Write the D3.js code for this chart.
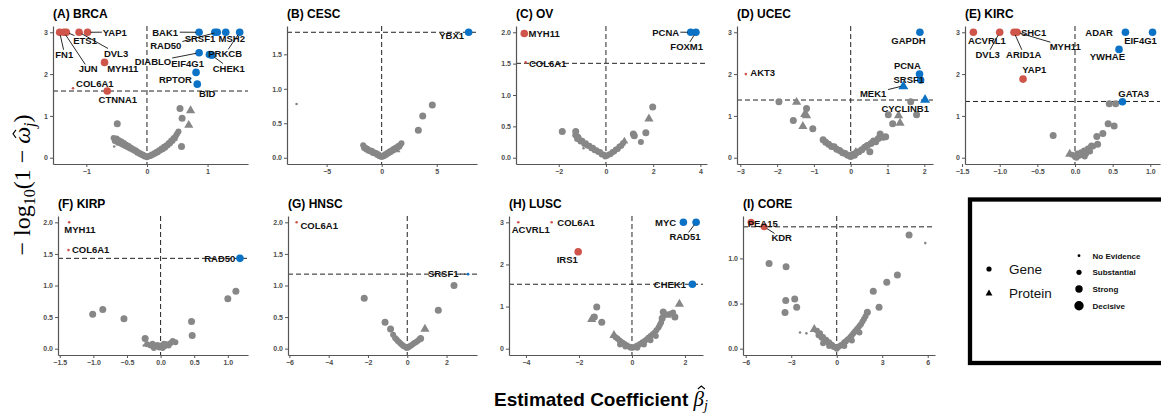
<!DOCTYPE html>
<html><head><meta charset="utf-8">
<script src="https://cdn.jsdelivr.net/npm/d3@7"></script>
<style>body{margin:0;background:#fff}</style>
</head><body>
<script>
// ---------- DATA ----------
const panelTitles = ["(A) BRCA","(B) CESC","(C) OV","(D) UCEC","(E) KIRC","(F) KIRP","(G) HNSC","(H) LUSC","(I) CORE"];
const xDomains = [[-1.55,1.667],[-8.6,8.66],[-3.81,4.28],[-3.09,2.236],[-1.461,1.129],[-1.526,1.3],[-6.07,3.55],[-4.64,2.68],[-6.18,6.48]];
const yDomains = [[-0.15,3.15],[-0.091,1.911],[-0.1,2.1],[-0.15,3.15],[-0.15,3.15],[-0.1,2.1],[-0.1,2.1],[-0.15,3.15],[-0.07,1.47]];
const xTicks = [[-1,0,1],[-5,0,5],[-2,0,2,4],[-3,-2,-1,0,1,2],[-1.5,-1,-0.5,0,0.5,1],[-1.5,-1,-0.5,0,0.5,1],[-6,-4,-2,0,2],[-4,-2,0,2],[-6,-3,0,3,6]];
const xTickFmt = ["d","d","d","d",".1f",".1f","d","d","d"];
const yTicks = [[0,1,2,3],[0,0.5,1,1.5],[0,0.5,1,1.5,2],[0,1,2,3],[0,1,2,3],[0,0.5,1,1.5,2],[0,0.5,1,1.5,2],[0,1,2,3],[0,0.5,1]];
const yTickFmt = ["d",".1f",".1f","d","d",".1f",".1f","d",".1f"];
const thresholds = [1.595,1.82,1.505,1.38,1.345,1.43,1.18,1.53,1.35];

// points: [beta, -log10(1-omega), type g=gene p=protein, evidence n/s/t/d, colour r/b/k]
const brcaPoints = [
 [-0.55,0.47,'g','s','k'],[-0.53,0.40,'g','s','k'],[-0.50,0.46,'g','s','k'],[-0.48,0.36,'g','s','k'],[-0.46,0.42,'g','s','k'],[-0.44,0.34,'g','s','k'],[-0.42,0.39,'g','s','k'],[-0.40,0.31,'g','s','k'],[-0.38,0.35,'g','s','k'],[-0.36,0.28,'g','s','k'],[-0.34,0.31,'g','s','k'],[-0.32,0.25,'g','s','k'],[-0.30,0.28,'g','s','k'],[-0.28,0.22,'g','s','k'],[-0.26,0.24,'g','s','k'],[-0.24,0.19,'g','s','k'],[-0.22,0.20,'g','s','k'],[-0.20,0.16,'g','s','k'],[-0.18,0.17,'g','s','k'],[-0.16,0.12,'g','s','k'],[-0.14,0.13,'g','s','k'],[-0.12,0.09,'g','s','k'],[-0.10,0.10,'g','s','k'],[-0.08,0.06,'g','s','k'],[-0.06,0.07,'g','s','k'],[-0.04,0.03,'g','s','k'],[-0.02,0.04,'g','s','k'],[0.00,0.01,'g','s','k'],[0.02,0.03,'g','s','k'],[0.04,0.05,'g','s','k'],[0.06,0.04,'g','s','k'],[0.08,0.08,'g','s','k'],[0.10,0.07,'g','s','k'],[0.12,0.11,'g','s','k'],[0.14,0.10,'g','s','k'],[0.16,0.14,'g','s','k'],[0.18,0.13,'g','s','k'],[0.20,0.18,'g','s','k'],[0.22,0.17,'g','s','k'],[0.24,0.22,'g','s','k'],[0.26,0.20,'g','s','k'],[0.28,0.26,'g','s','k'],[0.30,0.24,'g','s','k'],[0.32,0.30,'g','s','k'],[0.34,0.29,'g','s','k'],[0.36,0.35,'g','s','k'],[0.38,0.34,'g','s','k'],[0.40,0.41,'g','s','k'],[0.42,0.40,'g','s','k'],[0.44,0.47,'g','s','k'],[0.46,0.46,'g','s','k'],[0.48,0.53,'g','s','k'],[0.50,0.58,'g','s','k'],[0.52,0.63,'g','s','k'],
 [-0.49,0.81,'g','t','k'],[0.545,1.18,'g','t','k'],[0.58,0.945,'g','t','k'],[0.57,0.27,'g','t','k'],[0.72,1.14,'p','t','k'],[0.69,0.79,'p','t','k'],[-0.54,0.27,'g','n','k'],
 [-1.44,3,'g','d','r'],[-1.37,3,'g','d','r'],[-1.33,3,'g','d','r'],[-1.12,3,'g','d','r'],[-0.98,3,'g','d','r'],[-0.70,2.28,'g','d','r'],[-0.655,1.595,'g','d','r'],[-1.22,1.66,'g','n','r'],
 [0.86,3,'g','d','b'],[1.12,3,'g','d','b'],[1.16,3,'g','d','b'],[1.30,3,'g','d','b'],[1.53,3,'g','d','b'],[0.86,2.51,'g','d','b'],[1.03,2.47,'g','d','b'],[1.07,2.45,'g','d','b'],[0.81,2.04,'g','d','b'],[0.83,1.76,'g','d','b']
];
const cescPoints = [
 [-1.68,0.18,'g','s','k'],[-1.60,0.14,'g','s','k'],[-1.50,0.15,'g','s','k'],[-1.40,0.12,'g','s','k'],[-1.30,0.13,'g','s','k'],[-1.20,0.10,'g','s','k'],[-1.10,0.11,'g','s','k'],[-1.00,0.09,'g','s','k'],[-0.90,0.10,'g','s','k'],[-0.80,0.07,'g','s','k'],[-0.70,0.08,'g','s','k'],[-0.60,0.06,'g','s','k'],[-0.50,0.07,'g','s','k'],[-0.40,0.04,'g','s','k'],[-0.30,0.05,'g','s','k'],[-0.20,0.02,'g','s','k'],[-0.10,0.03,'g','s','k'],[0.00,0.01,'g','s','k'],
 [0.10,0.03,'g','s','k'],[0.20,0.02,'g','s','k'],[0.30,0.05,'g','s','k'],[0.40,0.04,'g','s','k'],[0.50,0.07,'g','s','k'],[0.60,0.06,'g','s','k'],[0.70,0.09,'g','s','k'],[0.80,0.08,'g','s','k'],[0.90,0.11,'g','s','k'],[1.00,0.10,'g','s','k'],[1.10,0.13,'g','s','k'],[1.20,0.12,'g','s','k'],[1.30,0.15,'g','s','k'],[1.40,0.14,'g','s','k'],[1.50,0.17,'g','s','k'],[1.60,0.16,'g','s','k'],[1.70,0.19,'g','s','k'],[1.80,0.21,'g','s','k'],[1.35,0.12,'p','s','k'],
 [-7.73,0.78,'g','n','k'],[4.6,0.765,'g','t','k'],[3.73,0.606,'g','t','k'],[3.33,0.40,'g','t','k'],
 [7.9,1.82,'g','d','b']
];
const ovPoints = [
 [-1.30,0.36,'g','s','k'],[-1.22,0.30,'g','s','k'],[-1.15,0.31,'g','s','k'],[-1.08,0.26,'g','s','k'],[-1.00,0.27,'g','s','k'],[-0.92,0.22,'g','s','k'],[-0.85,0.23,'g','s','k'],[-0.78,0.19,'g','s','k'],[-0.70,0.19,'g','s','k'],[-0.62,0.15,'g','s','k'],[-0.55,0.16,'g','s','k'],[-0.48,0.12,'g','s','k'],[-0.40,0.12,'g','s','k'],[-0.33,0.09,'g','s','k'],[-0.25,0.09,'g','s','k'],[-0.18,0.05,'g','s','k'],[-0.10,0.05,'g','s','k'],[-0.03,0.02,'g','s','k'],
 [0.05,0.03,'g','s','k'],[0.12,0.05,'g','s','k'],[0.20,0.06,'g','s','k'],[0.28,0.09,'g','s','k'],[0.35,0.10,'g','s','k'],[0.42,0.13,'g','s','k'],[0.50,0.14,'g','s','k'],[0.57,0.18,'g','s','k'],[0.65,0.19,'g','s','k'],[0.72,0.23,'g','s','k'],[0.78,0.27,'p','s','k'],
 [-1.85,0.42,'g','t','k'],[-1.28,0.42,'g','t','k'],[-1.2,0.33,'g','t','k'],[1.16,0.38,'g','t','k'],[1.2,0.35,'g','t','k'],[1.48,0.25,'g','s','k'],[1.69,0.40,'g','t','k'],[1.98,0.81,'g','t','k'],[1.82,0.63,'p','t','k'],[-0.95,0.15,'g','n','k'],
 [-3.46,1.98,'g','d','r'],[-3.40,1.52,'g','n','r'],[3.59,2.0,'g','d','b'],[3.81,2.0,'g','d','b']
];
const ucecPoints = [
 [-0.75,0.43,'g','t','k'],[-0.68,0.37,'g','t','k'],[-0.60,0.32,'g','t','k'],[-0.52,0.27,'g','t','k'],[-0.45,0.26,'g','t','k'],[-0.38,0.20,'g','t','k'],[-0.30,0.17,'g','t','k'],[-0.22,0.12,'g','t','k'],[-0.15,0.10,'g','t','k'],[-0.08,0.06,'g','t','k'],[0.00,0.03,'g','t','k'],[0.05,0.08,'g','t','k'],[0.10,0.06,'g','t','k'],[0.15,0.12,'g','t','k'],[0.22,0.14,'g','t','k'],[0.30,0.19,'g','t','k'],[0.38,0.25,'g','t','k'],[0.45,0.29,'g','t','k'],[0.52,0.14,'g','t','k'],[0.55,0.34,'g','t','k'],[0.62,0.40,'g','t','k'],[0.68,0.38,'g','t','k'],[0.75,0.46,'g','t','k'],[0.80,0.57,'g','t','k'],[0.88,0.49,'g','t','k'],[0.95,0.50,'g','t','k'],[0.14,0.14,'p','t','k'],
 [-1.95,1.34,'g','t','k'],[-1.47,1.34,'p','t','k'],[-1.56,0.89,'g','t','k'],[-1.2,1.18,'g','t','k'],[-1.25,1.05,'p','t','k'],[-1.20,1.02,'p','t','k'],[-1.3,0.765,'p','t','k'],[-1.03,0.69,'g','t','k'],
 [1.63,1.34,'g','t','k'],[1.79,1.03,'g','t','k'],[1.02,1.03,'g','t','k'],[1.14,0.81,'g','t','k'],[1.34,0.84,'p','t','k'],[1.30,1.02,'p','t','k'],
 [-2.85,2.0,'g','n','r'],[1.88,3.0,'g','d','b'],[1.87,2.0,'g','d','b'],[1.90,1.86,'g','d','b'],[1.43,1.72,'p','d','b'],[2.02,1.40,'p','d','b']
];
const kircPoints = [
 [0.00,0.02,'g','s','k'],[0.03,0.10,'g','s','k'],[0.05,0.04,'g','s','k'],[0.08,0.13,'g','s','k'],[0.10,0.06,'g','s','k'],[0.12,0.17,'g','s','k'],[0.15,0.10,'g','s','k'],[0.17,0.22,'g','s','k'],[0.20,0.15,'g','s','k'],[0.24,0.27,'g','s','k'],[-0.04,0.07,'g','s','k'],[0.02,0.00,'g','s','k'],[0.07,0.08,'g','s','k'],[0.13,0.03,'g','s','k'],[-0.07,0.10,'p','t','k'],
 [0.455,1.29,'g','t','k'],[0.54,1.29,'g','t','k'],[0.44,0.81,'g','t','k'],[0.52,0.76,'g','t','k'],[0.37,0.58,'g','t','k'],[0.29,0.51,'g','t','k'],[0.30,0.32,'g','t','k'],[0.22,0.28,'g','t','k'],[-0.29,0.53,'g','t','k'],
 [-1.35,3,'g','d','r'],[-1.0,3,'g','d','r'],[-0.81,3,'g','d','r'],[-0.77,3,'g','d','r'],[-0.69,1.88,'g','d','r'],
 [0.67,3,'g','d','b'],[1.03,3,'g','d','b'],[0.585,2.59,'g','d','b'],[0.63,1.34,'g','d','b']
];
const kirpPoints = [
 [-0.20,0.07,'g','s','k'],[-0.15,0.05,'g','s','k'],[-0.12,0.08,'g','s','k'],[-0.08,0.04,'g','s','k'],[-0.05,0.06,'g','s','k'],[-0.02,0.02,'g','s','k'],[0.00,0.05,'g','s','k'],[0.03,0.01,'g','s','k'],[0.06,0.04,'g','s','k'],[0.09,0.07,'g','s','k'],[0.12,0.05,'g','s','k'],[0.15,0.09,'g','s','k'],[0.18,0.12,'g','s','k'],[0.22,0.10,'g','s','k'],[-0.10,0.01,'g','s','k'],[0.05,0.08,'g','s','k'],
 [-1.01,0.545,'g','t','k'],[-0.86,0.62,'g','t','k'],[-0.545,0.475,'g','t','k'],[0.46,0.43,'g','t','k'],[0.47,0.21,'g','t','k'],[1.0,0.79,'g','t','k'],[1.12,0.91,'g','t','k'],[-0.23,0.16,'g','t','k'],[-0.25,0.05,'g','n','k'],
 [-1.36,2.0,'g','n','r'],[-1.37,1.56,'g','n','r'],[1.18,1.43,'g','d','b']
];
const hnscPoints = [
 [-0.72,0.22,'g','s','k'],[-0.62,0.17,'g','s','k'],[-0.55,0.15,'g','s','k'],[-0.48,0.12,'g','s','k'],[-0.40,0.10,'g','s','k'],[-0.33,0.08,'g','s','k'],[-0.25,0.06,'g','s','k'],[-0.18,0.04,'g','s','k'],[-0.10,0.03,'g','s','k'],[-0.03,0.01,'g','s','k'],[0.05,0.02,'g','s','k'],[0.12,0.04,'g','s','k'],[0.20,0.05,'g','s','k'],[0.28,0.07,'g','s','k'],[0.36,0.09,'g','s','k'],[0.44,0.10,'g','s','k'],[0.52,0.12,'g','s','k'],[0.60,0.14,'g','s','k'],
 [-2.19,0.80,'g','t','k'],[-1.13,0.42,'g','t','k'],[-0.85,0.31,'g','t','k'],[2.38,1.0,'g','t','k'],[1.58,0.61,'g','t','k'],[0.9,0.32,'p','t','k'],[0.68,0.16,'g','t','k'],
 [-5.63,2.0,'g','n','r'],[3.1,1.18,'g','n','b']
];
const luscPoints = [
 [-0.68,0.33,'p','t','k'],[-0.62,0.27,'g','s','k'],[-0.55,0.24,'g','s','k'],[-0.48,0.20,'g','s','k'],[-0.42,0.17,'g','s','k'],[-0.35,0.14,'g','s','k'],[-0.28,0.11,'g','s','k'],[-0.20,0.08,'g','s','k'],[-0.12,0.05,'g','s','k'],[-0.05,0.02,'g','s','k'],
 [0.03,0.02,'g','s','k'],[0.10,0.04,'g','s','k'],[0.18,0.07,'g','s','k'],[0.25,0.09,'g','s','k'],[0.32,0.12,'g','s','k'],[0.40,0.15,'g','s','k'],[0.48,0.18,'g','s','k'],[0.55,0.22,'g','s','k'],[0.62,0.26,'g','s','k'],[0.70,0.30,'g','s','k'],[0.78,0.34,'g','s','k'],[0.85,0.38,'g','s','k'],[0.92,0.44,'g','s','k'],[1.00,0.50,'g','s','k'],[1.05,0.56,'g','s','k'],[1.10,0.62,'g','s','k'],[1.14,0.72,'g','t','k'],[1.18,0.87,'g','t','k'],[1.25,0.82,'g','s','k'],[1.35,0.80,'p','s','k'],[1.45,0.83,'g','s','k'],[1.55,0.86,'g','s','k'],[1.62,0.75,'g','t','k'],[1.79,1.07,'p','t','k'],
 [-0.45,0.10,'g','s','k'],[-0.25,0.05,'g','s','k'],[0.20,0.02,'g','s','k'],[0.45,0.10,'g','s','k'],[0.70,0.20,'g','s','k'],[0.90,0.30,'g','s','k'],
 [-1.33,0.99,'g','t','k'],[-1.52,0.71,'p','t','k'],[-1.14,0.63,'g','t','k'],[-1.42,0.75,'g','t','k'],
 [-4.29,3,'g','n','r'],[-3.03,3,'g','n','r'],[-2.03,2.3,'g','d','r'],[1.94,3,'g','d','b'],[2.42,3,'g','d','b'],[2.28,1.53,'g','d','b']
];
const corePoints = [
 [-1.30,0.20,'g','s','k'],[-1.20,0.15,'g','s','k'],[-1.10,0.17,'g','s','k'],[-1.00,0.12,'g','s','k'],[-0.90,0.13,'g','s','k'],[-0.80,0.09,'g','s','k'],[-0.70,0.10,'g','s','k'],[-0.60,0.07,'g','s','k'],[-0.50,0.07,'g','s','k'],[-0.40,0.05,'g','s','k'],[-0.30,0.04,'g','s','k'],[-0.20,0.02,'g','s','k'],[-0.10,0.02,'g','s','k'],[0.00,0.00,'g','s','k'],
 [0.10,0.02,'g','s','k'],[0.20,0.03,'g','s','k'],[0.30,0.04,'g','s','k'],[0.40,0.05,'g','s','k'],[0.50,0.07,'g','s','k'],[0.60,0.08,'g','s','k'],[0.70,0.10,'g','s','k'],[0.80,0.11,'g','s','k'],[0.90,0.13,'g','s','k'],[1.00,0.15,'g','s','k'],[1.10,0.17,'g','s','k'],[1.20,0.19,'g','s','k'],[1.30,0.21,'g','s','k'],[1.40,0.23,'g','s','k'],[1.50,0.25,'g','s','k'],[1.60,0.27,'g','s','k'],[1.70,0.30,'g','s','k'],[1.80,0.33,'g','s','k'],[1.90,0.36,'g','s','k'],
 [-0.9,0.06,'g','s','k'],[-0.5,0.03,'g','s','k'],[0.5,0.03,'g','s','k'],[1.0,0.09,'g','s','k'],[1.5,0.18,'g','s','k'],
 [-4.46,0.945,'g','t','k'],[-3.34,0.908,'g','t','k'],[-3.36,0.533,'g','t','k'],[-2.77,0.55,'g','t','k'],[-3.41,0.40,'g','t','k'],[-2.64,0.46,'g','t','k'],[4.77,1.26,'g','t','k'],[5.84,1.17,'g','n','k'],[4.0,0.817,'g','t','k'],[3.3,0.735,'g','t','k'],[2.41,0.636,'g','t','k'],[2.79,0.46,'g','t','k'],[2.02,0.405,'g','t','k'],[-2.42,0.18,'g','n','k'],[-2.0,0.17,'g','n','k'],[-1.48,0.22,'p','t','k'],
 [-5.65,1.40,'g','t','r'],[-4.79,1.35,'g','t','r']
];
const panelPoints = [brcaPoints,cescPoints,ovPoints,ucecPoints,kircPoints,kirpPoints,hnscPoints,luscPoints,corePoints];

// labels: [text, point beta, point y, label beta, label y, draw segment]
const brcaLabels = [["FN1",-1.44,3,-1.365,2.47,1],["JUN",-1.37,3,-0.97,2.12,1],["ETS1",-1.33,3,-1.02,2.81,1],["DVL3",-1.12,3,-0.51,2.5,1],["YAP1",-0.98,3,-0.53,3.0,1],["MYH11",-0.70,2.28,-0.40,2.12,0],["COL6A1",-1.22,1.66,-0.86,1.78,0],["CTNNA1",-0.655,1.595,-0.48,1.38,0],
 ["BAK1",0.86,3,0.30,3.0,1],["SRSF1",1.12,3,0.875,2.85,1],["RAD50",1.16,3,0.31,2.67,1],["MSH2",1.30,3,1.40,2.85,1],["DIABLO",0.86,2.51,0.10,2.29,1],["EIF4G1",1.03,2.47,0.67,2.25,0],["PRKCB",1.53,3,1.29,2.48,1],["CHEK1",1.07,2.45,1.35,2.14,1],["RPTOR",0.81,2.04,0.47,1.86,0],["BID",0.83,1.76,0.995,1.54,0]];
const cescLabels = [["YBX1",7.9,1.82,6.36,1.765,1]];
const ovLabels = [["MYH11",-3.46,1.98,-2.62,1.98,0],["COL6A1",-3.40,1.52,-2.47,1.5,0],["PCNA",3.59,2.0,2.53,2.0,1],["FOXM1",3.81,2.0,3.42,1.77,1]];
const ucecLabels = [["AKT3",-2.85,2.0,-2.39,2.03,0],["GAPDH",1.88,3,1.57,2.8,0],["PCNA",1.87,2,1.54,2.19,0],["SRSF1",1.90,1.86,1.58,1.86,0],["MEK1",1.43,1.72,0.61,1.54,1],["CYCLINB1",2.02,1.40,1.48,1.17,0]];
const kircLabels = [["ACVRL1",-1.35,3,-1.17,2.81,0],["DVL3",-1.0,3,-1.16,2.47,1],["ARID1A",-0.81,3,-0.68,2.47,1],["SHC1",-0.77,3,-0.55,3.0,0],["MYH11",-0.77,3,-0.13,2.65,1],["YAP1",-0.69,1.88,-0.54,2.1,0],
 ["ADAR",0.67,3,0.32,3,0],["EIF4G1",1.03,3,0.87,2.79,0],["YWHAE",0.585,2.59,0.43,2.41,0],["GATA3",0.63,1.34,0.78,1.53,0]];
const kirpLabels = [["MYH11",-1.36,2.0,-1.2,1.89,0],["COL6A1",-1.37,1.56,-1.04,1.57,0],["RAD50",1.18,1.43,0.88,1.43,1]];
const hnscLabels = [["COL6A1",-5.63,2.0,-4.48,1.95,0],["SRSF1",3.1,1.18,1.83,1.18,1]];
const luscLabels = [["ACVRL1",-4.29,3,-3.82,2.83,0],["COL6A1",-3.03,3,-2.11,3,0],["IRS1",-2.03,2.3,-2.44,2.12,0],["MYC",1.94,3,1.27,3,0],["RAD51",2.42,3,2.0,2.65,1],["CHEK1",2.28,1.53,1.43,1.53,1]];
const coreLabels = [["PEA15",-5.65,1.40,-4.88,1.39,0],["KDR",-4.79,1.35,-3.63,1.225,1]];
const panelLabels = [brcaLabels,cescLabels,ovLabels,ucecLabels,kircLabels,kirpLabels,hnscLabels,luscLabels,coreLabels];

const shapeNames = ["Gene","Protein"];
const evidenceNames = ["No Evidence","Substantial","Strong","Decisive"];

// ---------- LAYOUT / STYLE ----------
const W = 1161, H = 414;
const boxes = [[53,248,26,164],[287,477,26,164],[516,707,26,164],[737,933,26,164],[965,1160,26,164],
               [58,248,216,355],[288,477,216,355],[509,703,216,355],[743,935,216,355]];
const R = {n:1.3, s:3.0, t:3.5, d:3.8};
const COL = {r:"#CF544A", b:"#0C72C6", k:"#878787"};
const SANS = "'Liberation Sans', Arial, Helvetica, sans-serif";
const SERIF = "'Liberation Serif', 'DejaVu Serif', serif";

const svg = d3.select("body").append("svg").attr("width",W).attr("height",H);
svg.append("rect").attr("width",W).attr("height",H).attr("fill","#fff");

function marker(sel, d, x, y){
  if (d[2]==='p'){
    const r = R[d[3]];
    sel.append("path")
      .attr("d", d3.symbol(d3.symbolTriangle, Math.PI*r*r*0.95)())
      .attr("transform",`translate(${x(d[0])},${y(d[1])+r*0.15})`)
      .attr("fill", COL[d[4]]);
  } else {
    sel.append("circle").attr("cx",x(d[0])).attr("cy",y(d[1])).attr("r",R[d[3]]).attr("fill",COL[d[4]]);
  }
}

panelTitles.forEach((title,i)=>{
  const [l,r,t,b] = boxes[i];
  const x = d3.scaleLinear().domain(xDomains[i]).range([l,r]);
  const y = d3.scaleLinear().domain(yDomains[i]).range([b,t]);
  const g = svg.append("g");

  g.append("text").attr("x",l).attr("y",t-8).attr("font-family",SANS).attr("font-weight","bold")
    .attr("font-size",12).attr("fill","#000").text(title);

  g.append("line").attr("x1",x(0)).attr("x2",x(0)).attr("y1",t).attr("y2",b)
    .attr("stroke","#222").attr("stroke-width",1).attr("stroke-dasharray","5,3");
  g.append("line").attr("x1",l).attr("x2",r).attr("y1",y(thresholds[i])).attr("y2",y(thresholds[i]))
    .attr("stroke","#222").attr("stroke-width",1).attr("stroke-dasharray","5,3");

  const xa = g.append("g").attr("transform",`translate(0,${b})`)
    .call(d3.axisBottom(x).tickValues(xTicks[i]).tickSize(3).tickSizeOuter(0).tickPadding(2)
      .tickFormat(d=> xTickFmt[i]==="d" ? d3.format("d")(d) : d3.format(".1f")(d)));
  const ya = g.append("g").attr("transform",`translate(${l},0)`)
    .call(d3.axisLeft(y).tickValues(yTicks[i]).tickSize(3).tickSizeOuter(0).tickPadding(2)
      .tickFormat(d=> yTickFmt[i]==="d" ? d3.format("d")(d) : d3.format(".1f")(d)));
  [xa,ya].forEach(a=>{
    a.select(".domain").attr("stroke","#555").attr("stroke-width",1.2);
    a.selectAll(".tick line").attr("stroke","#555");
    a.selectAll(".tick text").attr("fill","#4d4d4d").attr("font-family",SANS)
      .attr("font-weight","bold").attr("font-size",7);
  });

  const pg = g.append("g");
  const pts = panelPoints[i].slice().sort((a,c)=> (a[4]==='k'?0:1)-(c[4]==='k'?0:1));
  pts.forEach(d=>marker(pg,d,x,y));

  const sg = g.append("g"), tg = g.append("g");
  panelLabels[i].forEach(L=>{
    const [txt,px0,py0,lx0,ly0,seg] = L;
    const tx = tg.append("text").attr("x",x(lx0)).attr("y",y(ly0)).attr("dy","0.35em")
      .attr("text-anchor","middle").attr("font-family",SANS).attr("font-weight","bold")
      .attr("font-size",9.5).attr("fill","#111").text(txt);
    if (seg){
      const bb = tx.node().getBBox();
      const cx = bb.x+bb.width/2, cy = bb.y+bb.height/2;
      const px = x(px0), py = y(py0);
      const dx = px-cx, dy = py-cy;
      const hw = bb.width/2+1, hh = bb.height/2-1;
      const tt = Math.min(dx!==0?hw/Math.abs(dx):Infinity, dy!==0?hh/Math.abs(dy):Infinity);
      if (tt<1){
        const sx = cx+dx*tt, sy = cy+dy*tt;
        const len = Math.hypot(px-sx,py-sy);
        const rr = 3;
        if (len>rr+2){
          const ex = px-(px-sx)/len*rr, ey = py-(py-sy)/len*rr;
          sg.append("line").attr("x1",sx).attr("y1",sy).attr("x2",ex).attr("y2",ey)
            .attr("stroke","#111").attr("stroke-width",0.9);
        }
      }
    }
  });
});

// global axis titles (hats drawn as small chevrons over the glyphs)
function hat(parent, cx, top, w){
  parent.append("path").attr("d",`M${cx-w},${top+3} L${cx},${top} L${cx+w},${top+3}`)
    .attr("fill","none").attr("stroke","#000").attr("stroke-width",1.1);
}
const ytg = svg.append("g").attr("transform","translate(30,185) rotate(-90)");
const yt = ytg.append("text").attr("text-anchor","middle").attr("font-family",SERIF).attr("font-size",24).attr("fill","#000");
yt.append("tspan").text("− log");
yt.append("tspan").attr("dy",5).attr("font-size",16).text("10");
yt.append("tspan").attr("dy",-5).text("(1 − ");
yt.append("tspan").attr("font-style","italic").text("ω");
yt.append("tspan").attr("dy",5).attr("font-size",16).attr("font-style","italic").text("j");
yt.append("tspan").attr("dy",-5).text(")");
{
  const ext = yt.node().getExtentOfChar(12);
  hat(ytg, ext.x+ext.width/2+1.5, -17, 4);
}

const xt = svg.append("text").attr("x",601).attr("y",406).attr("text-anchor","middle")
  .attr("font-family",SANS).attr("font-weight","bold").attr("font-size",19).attr("fill","#000");
xt.append("tspan").text("Estimated Coefficient ");
xt.append("tspan").attr("font-family",SERIF).attr("font-style","italic").attr("font-weight","normal").attr("font-size",21).text("β");
xt.append("tspan").attr("dy",4).attr("font-family",SERIF).attr("font-style","italic").attr("font-weight","normal").attr("font-size",14).text("j");
{
  const n = "Estimated Coefficient ".length;
  const ext = xt.node().getExtentOfChar(n);
  hat(svg, ext.x+ext.width/2+2.5, 406-20, 3.5);
}

// legend
const lg = svg.append("g");
lg.append("rect").attr("x",970).attr("y",199.5).attr("width",195).attr("height",163.5)
  .attr("fill","#fff").attr("stroke","#000").attr("stroke-width",4.3);
const shapeY = d3.scalePoint().domain(shapeNames).range([269,293.5]);
lg.append("circle").attr("cx",989).attr("cy",shapeY("Gene")).attr("r",2.6).attr("fill","#000");
lg.append("path").attr("d",d3.symbol(d3.symbolTriangle,20)()).attr("transform",`translate(989,${shapeY("Protein")})`).attr("fill","#000");
shapeNames.forEach(s=>{
  lg.append("text").attr("x",1009).attr("y",shapeY(s)).attr("dy","0.35em").attr("font-family",SANS)
    .attr("font-size",13.5).attr("fill","#111").text(s);
});
const evY = d3.scalePoint().domain(evidenceNames).range([255.7,305.7]);
const evR = [1.4,2.6,3.7,4.7];
evidenceNames.forEach((e,k)=>{
  lg.append("circle").attr("cx",1079).attr("cy",evY(e)).attr("r",evR[k]).attr("fill","#000");
  lg.append("text").attr("x",1092.5).attr("y",evY(e)).attr("dy","0.35em").attr("font-family",SANS)
    .attr("font-weight","bold").attr("font-size",8).attr("fill","#111").text(e);
});
</script>
</body></html>
